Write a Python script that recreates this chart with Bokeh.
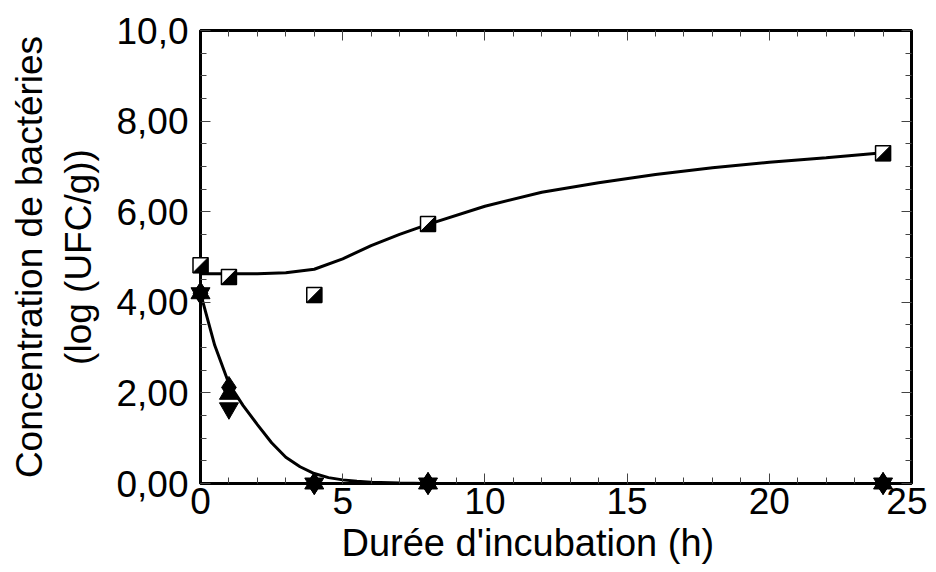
from bokeh.plotting import figure
from bokeh.models import Range1d, LinearAxis, FixedTicker, Title
from bokeh.embed import file_html
from bokeh.resources import INLINE

# ---- data ----
t = [0, 1, 4, 8, 24]
sq_vals = [4.82, 4.56, 4.16, 5.73, 7.29]
diamond_vals = [4.2, 2.12, 0, 0, 0]
tri_up_vals = [4.2, 1.98, 0, 0, 0]
tri_down_vals = [4.2, 1.66, 0, 0, 0]

upper_x = [0, 1, 2, 3, 4, 5, 6, 7, 8, 10, 12, 14, 16, 18, 20, 22, 24]
upper_y = [4.63, 4.63, 4.63, 4.65, 4.73, 4.96, 5.25, 5.5, 5.72, 6.12, 6.43, 6.64, 6.82, 6.97, 7.09, 7.19, 7.30]

lower_x = [0, 0.5, 1, 1.5, 2, 2.5, 3, 3.5, 4, 4.5, 5, 5.5, 6, 7, 8, 24]
lower_y = [4.2, 3.05, 2.2, 1.72, 1.3, 0.9, 0.58, 0.37, 0.22, 0.13, 0.08, 0.05, 0.03, 0.01, 0, 0]

x_ticks = [0, 5, 10, 15, 20, 25]
y_ticks = [0, 2, 4, 6, 8, 10]
y_tick_labels = ["0,00", "2,00", "4,00", "6,00", "8,00", "10,0"]

X_MAX = 25
Y_MAX = 10

FONT = "Liberation Sans"
FS = "37px"

FW, FH = 711, 453
p = figure(width=927, height=564, output_backend="svg", toolbar_location=None,
           x_range=Range1d(0, X_MAX), y_range=Range1d(0, Y_MAX),
           min_border_left=200, min_border_right=16, min_border_top=30, min_border_bottom=0)
p.frame_width = FW
p.frame_height = FH
p.grid.visible = False
p.outline_line_color = "black"
p.outline_line_width = 3
p.background_fill_color = "white"
p.border_fill_color = "white"

xt = FixedTicker(ticks=x_ticks, minor_ticks=list(range(0, 26)))
yt = FixedTicker(ticks=y_ticks, minor_ticks=[i * 0.5 for i in range(0, 21)])

def style(ax, labels=True):
    ax.axis_line_color = "black"
    ax.axis_line_width = 3
    ax.major_tick_in = 10
    ax.major_tick_out = 0
    ax.minor_tick_in = 6
    ax.minor_tick_out = 0
    ax.major_tick_line_color = "#444444"
    ax.minor_tick_line_color = "#444444"
    ax.major_tick_line_width = 1
    ax.minor_tick_line_width = 1
    ax.major_label_text_font = FONT
    ax.major_label_text_font_size = FS
    ax.major_label_text_color = "black" if labels else None
    ax.axis_label_text_font = FONT
    ax.axis_label_text_font_size = FS
    ax.axis_label_text_font_style = "normal"
    ax.axis_label_text_color = "black"

p.xaxis.ticker = xt
p.yaxis.ticker = yt
style(p.xaxis[0])
style(p.yaxis[0])
p.yaxis.major_label_overrides = {v: s for v, s in zip(y_ticks, y_tick_labels)}
p.yaxis.axis_label = "Concentration de bactéries\n(log (UFC/g))"
p.xaxis.major_label_standoff = 4
p.yaxis.major_label_standoff = 12
p.yaxis.axis_label_standoff = 14

# x-axis title, slightly left of the frame centre as in the original
p.add_layout(Title(text="Durée d'incubation (h)", align="left", offset=141,
                   text_font=FONT, text_font_size="38px", text_font_style="normal",
                   text_color="black", standoff=7), "below")

top = LinearAxis(ticker=xt)
style(top, labels=False)
top.major_label_text_font_size = "0px"
p.add_layout(top, "above")
right = LinearAxis(ticker=yt)
style(right, labels=False)
right.major_label_text_font_size = "0px"
p.add_layout(right, "right")

# curves
p.line(upper_x, upper_y, line_color="black", line_width=3)
p.line(lower_x, lower_y, line_color="black", line_width=3)

# decreasing series (drawn at overlay level so they are not clipped by the frame)
p.scatter(t, diamond_vals, marker="diamond", size=22, fill_color="black", line_color="black", level="overlay")
p.scatter(t, tri_up_vals, marker="triangle", size=19, fill_color="black", line_color="black", level="overlay")
p.scatter(t, tri_down_vals, marker="inverted_triangle", size=19, fill_color="black", line_color="black", level="overlay")

# half-filled squares (white square, black lower-right half)
half_px = 7.5
dx = half_px * X_MAX / FW
dy = half_px * Y_MAX / FH
xs_sq, ys_sq, xs_tri, ys_tri = [], [], [], []
for x, y in zip(t, sq_vals):
    xs_sq.append([x - dx, x + dx, x + dx, x - dx])
    ys_sq.append([y - dy, y - dy, y + dy, y + dy])
    xs_tri.append([x + dx, x + dx, x - dx])
    ys_tri.append([y + dy, y - dy, y - dy])
p.patches(xs_sq, ys_sq, fill_color="white", line_color="black", line_width=1.5, level="overlay")
p.patches(xs_tri, ys_tri, fill_color="black", line_color="black", line_width=1, level="overlay")

open("out.html", "w").write(file_html(p, INLINE))
